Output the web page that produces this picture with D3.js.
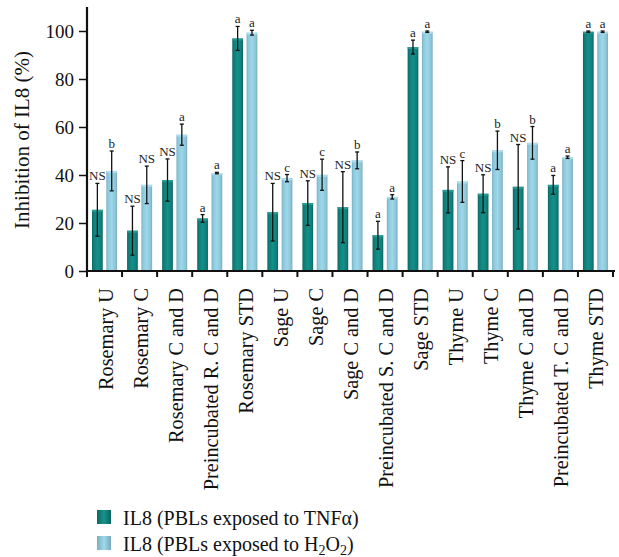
<!DOCTYPE html>
<html><head><meta charset="utf-8">
<script src="https://cdn.jsdelivr.net/npm/d3@7"></script>
<style>
html,body{margin:0;padding:0;background:#fff;}
</style></head>
<body>
<svg id="chart" width="619" height="557"></svg>
<script>
const categories = ["Rosemary U","Rosemary C","Rosemary C and D","Preincubated R. C and D","Rosemary STD",
  "Sage U","Sage C","Sage C and D","Preincubated S. C and D","Sage STD",
  "Thyme U","Thyme C","Thyme C and D","Preincubated T. C and D","Thyme STD"];
const seriesNames = ["IL8 (PBLs exposed to TNFα)","IL8 (PBLs exposed to H2O2)"];
const tnfValues = [25.5,16.8,37.9,21.9,96.9,24.5,28.3,26.6,14.9,93.3,33.8,32.2,35.1,35.9,99.7];
const tnfErrors = [11.0,10.2,8.8,1.6,5.0,12.0,9.3,14.8,5.8,2.9,9.6,7.9,17.6,3.9,0.3];
const tnfLabels = ["NS","NS","NS","a","a","NS","NS","NS","a","a","NS","NS","NS","a","a"];
const h2o2Values = [41.7,35.9,56.8,40.8,99.3,38.7,40.1,46.1,30.9,99.7,37.3,50.3,53.4,47.4,99.7];
const h2o2Errors = [8.3,7.8,4.4,0.3,1.0,1.5,6.5,3.5,0.9,0.3,8.7,8.0,6.8,0.5,0.3];
const h2o2Labels = ["b","NS","a","a","a","c","c","b","a","a","c","b","b","a","a"];
const yTicks = [0,20,40,60,80,100];

const FONT = "'Liberation Serif', 'DejaVu Serif', serif";
const svg = d3.select("#chart").attr("font-family", FONT);
const mLeft = 87, mRight = 613, mTop = 7, mBottom = 271;
const x = d3.scaleBand().domain(categories).range([mLeft, mRight]).paddingInner(0).paddingOuter(0);
const xs = d3.scaleBand().domain([0,1]).range([0, x.bandwidth()]).paddingInner(0.25).paddingOuter(0.35);
const y = d3.scaleLinear().domain([0,110]).range([mBottom, mTop]);

const defs = svg.append("defs");
function grad(id, stops){
  const g = defs.append("linearGradient").attr("id", id).attr("x1","0").attr("x2","1").attr("y1","0").attr("y2","0");
  stops.forEach(s => g.append("stop").attr("offset", s[0]).attr("stop-color", s[1]));
}
grad("gTeal", [[0,"#0b6763"],[0.15,"#0f7c77"],[0.5,"#15908a"],[0.85,"#107e79"],[1,"#0a625e"]]);
grad("gLight", [[0,"#78aebf"],[0.15,"#8cc8dc"],[0.5,"#9dd7ea"],[0.85,"#8bc4d6"],[1,"#7aa9b8"]]);
grad("gTealL", [[0,"#0b6763"],[0.5,"#17948d"],[1,"#0a625e"]]);
grad("gLightL", [[0,"#78aebf"],[0.5,"#a0d9ec"],[1,"#7aa9b8"]]);

const series = [
  {vals: tnfValues, errs: tnfErrors, labs: tnfLabels, fill: "url(#gTeal)", capc: "#2aa39c"},
  {vals: h2o2Values, errs: h2o2Errors, labs: h2o2Labels, fill: "url(#gLight)", capc: "#b5e4f2"}
];

series.forEach((s, si) => {
  const data = categories.map((c, i) => ({c, v: s.vals[i], e: s.errs[i], l: s.labs[i]}));
  const g = svg.append("g");
  g.selectAll("rect.bar").data(data).join("rect").attr("class","bar")
    .attr("x", d => x(d.c) + xs(si)).attr("width", xs.bandwidth())
    .attr("y", d => y(d.v)).attr("height", d => y(0) - y(d.v))
    .attr("fill", s.fill);
  g.selectAll("rect.cap").data(data).join("rect").attr("class","cap")
    .attr("x", d => x(d.c) + xs(si)).attr("width", xs.bandwidth())
    .attr("y", d => y(d.v)).attr("height", 2)
    .attr("fill", s.capc).attr("opacity", 0.8);
  const cx = d => x(d.c) + xs(si) + xs.bandwidth()/2;
  g.selectAll("line.err").data(data).join("line").attr("class","err")
    .attr("x1", cx).attr("x2", cx)
    .attr("y1", d => y(d.v + d.e)).attr("y2", d => y(d.v - d.e))
    .attr("stroke","#111").attr("stroke-width",1.3);
  ["p","m"].forEach(sign => {
    g.selectAll("line.cap"+sign).data(data).join("line").attr("class","cap"+sign)
      .attr("x1", d => cx(d) - 2).attr("x2", d => cx(d) + 2)
      .attr("y1", d => y(sign==="p" ? d.v + d.e : d.v - d.e))
      .attr("y2", d => y(sign==="p" ? d.v + d.e : d.v - d.e))
      .attr("stroke","#111").attr("stroke-width",1.3);
  });
  g.selectAll("text.lab").data(data).join("text").attr("class","lab")
    .attr("x", cx).attr("y", d => y(d.v + d.e) - 3)
    .attr("text-anchor","middle").attr("font-size", 13).attr("font-family", FONT).attr("fill","#222")
    .text(d => d.l);
});

// Y axis
const yAxis = svg.append("g").attr("transform", `translate(${mLeft},0)`)
  .call(d3.axisLeft(y).tickValues(yTicks).tickSize(8).tickPadding(5));
yAxis.attr("font-family", FONT);
yAxis.select(".domain").attr("stroke","#111").attr("stroke-width",2.2).attr("d", `M0,${mTop}V${mBottom}`);
yAxis.selectAll(".tick line").attr("stroke","#111").attr("stroke-width",1.5);
yAxis.selectAll(".tick text").attr("font-size",19).attr("font-family",FONT).attr("fill","#111").attr("dy","0.34em");

// X axis
const xAxis = svg.append("g").attr("transform", `translate(0,${mBottom})`)
  .call(d3.axisBottom(x).tickSize(0).tickFormat(""));
xAxis.attr("font-family", FONT);
xAxis.select(".domain").attr("stroke","#111").attr("stroke-width",2.2).attr("d", `M${mLeft-1},0H${mRight+2}`);
const bounds = categories.map(c => x(c)).concat([mRight]);
xAxis.selectAll("line.bt").data(bounds).join("line").attr("class","bt")
  .attr("x1", d => d).attr("x2", d => d).attr("y1",0).attr("y2",6)
  .attr("stroke","#111").attr("stroke-width",2);
xAxis.selectAll("text.xl").data(categories).join("text").attr("class","xl")
  .attr("transform", c => `translate(${x(c) + x.bandwidth()/2 + 8},17) rotate(-90)`)
  .attr("text-anchor","end").attr("font-size",20.3).attr("font-family",FONT).attr("fill","#111")
  .text(c => c);

// Y label
svg.append("text").attr("transform", `translate(29,${(y(0)+y(100))/2 - 11}) rotate(-90)`)
  .attr("text-anchor","middle").attr("font-size",21).attr("font-family",FONT).attr("fill","#111")
  .text("Inhibition of IL8 (%)");

// Legend
const legend = svg.append("g").attr("font-family", FONT);
const legY = [517, 543];
legend.selectAll("rect").data(seriesNames).join("rect")
  .attr("x",97).attr("y",(d,i)=>legY[i]-7).attr("width",14).attr("height",14)
  .attr("fill",(d,i)=> i===0 ? "url(#gTealL)" : "url(#gLightL)");
const t1 = legend.append("text").attr("x",123).attr("y",legY[0]+8).attr("font-size",20).attr("fill","#111");
t1.text(seriesNames[0]);
const t2 = legend.append("text").attr("x",123).attr("y",legY[1]+8).attr("font-size",20).attr("fill","#111");
t2.append("tspan").text("IL8 (PBLs exposed to H");
t2.append("tspan").attr("font-size",14).attr("dy",4).text("2");
t2.append("tspan").attr("dy",-4).text("O");
t2.append("tspan").attr("font-size",14).attr("dy",4).text("2");
t2.append("tspan").attr("dy",-4).text(")");
</script>
</body></html>
